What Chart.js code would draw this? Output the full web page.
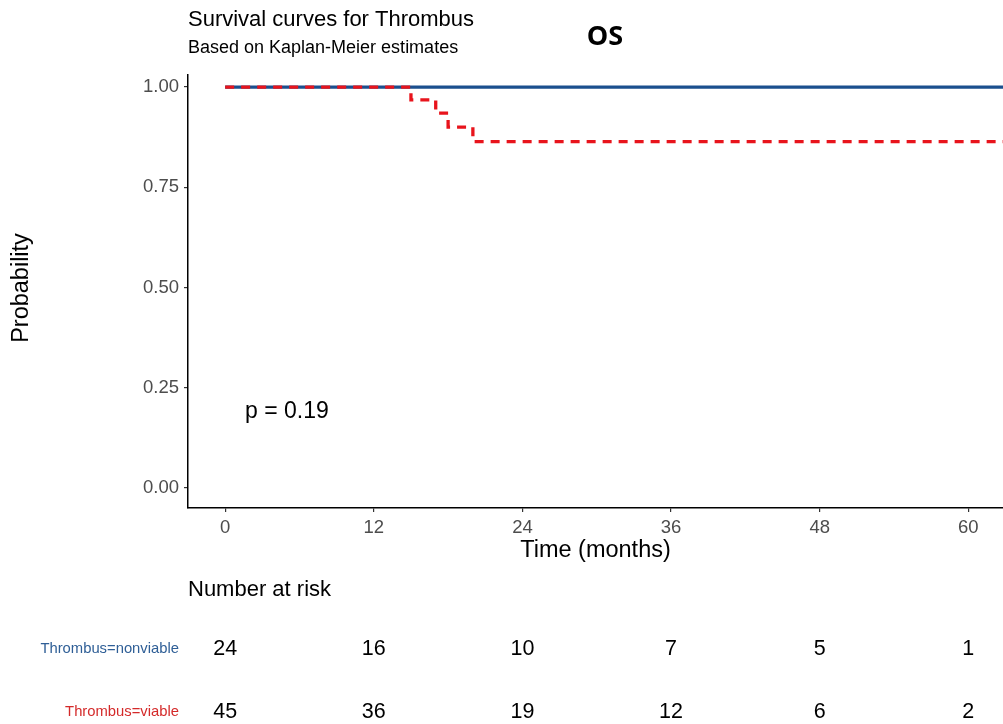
<!DOCTYPE html>
<html>
<head>
<meta charset="utf-8">
<script src="https://cdn.jsdelivr.net/npm/chart.js@4/dist/chart.umd.min.js"></script>
<style>
  html, body { margin: 0; padding: 0; background: #fff; }
  #wrap { width: 1003px; height: 724px; }
</style>
</head>
<body>
<div id="wrap"><canvas id="kmChart" width="1003" height="724"></canvas></div>
<script>
// tick labels / risk table times
const xTicks = [0, 12, 24, 36, 48, 60];
const yTicks = [0, 0.25, 0.5, 0.75, 1];

// Kaplan-Meier steps
const nonviableTime = [0, 63];
const nonviableSurv = [1, 1];
const viableTime = [0, 15, 17, 18, 20, 63];
const viableSurv = [1, 0.968, 0.935, 0.9, 0.864, 0.864];

// number at risk
const riskNonviable = [24, 16, 10, 7, 5, 1];
const riskViable = [45, 36, 19, 12, 6, 2];

const blue = '#1b4f8e';
const red = '#e8141c';
const font = '"Liberation Sans", Arial, sans-serif';

function toPoints(xs, ys) {
  return xs.map((x, i) => ({ x: x, y: ys[i] }));
}

// titles, axis titles, p-value and risk table
const textPlugin = {
  id: 'kmText',
  afterDraw(chart) {
    const ctx = chart.ctx;
    const xs = chart.scales.x;
    const ys = chart.scales.y;
    const area = chart.chartArea;
    ctx.save();
    ctx.textBaseline = 'middle';
    ctx.fillStyle = '#000';

    ctx.textAlign = 'left';
    ctx.font = '22px ' + font;
    ctx.fillText('Survival curves for Thrombus', area.left, 20);
    ctx.font = '18px ' + font;
    ctx.fillText('Based on Kaplan-Meier estimates', area.left, 48);

    ctx.textAlign = 'center';
    ctx.font = 'bold 27px "Open Sans", ' + font;
    ctx.fillText('OS', 605, 37);

    // axis titles
    ctx.font = '23.5px ' + font;
    ctx.fillText('Time (months)', (area.left + area.right) / 2, 551);
    ctx.save();
    ctx.translate(22, 288);
    ctx.rotate(-Math.PI / 2);
    ctx.fillText('Probability', 0, 0);
    ctx.restore();

    // p value
    ctx.textAlign = 'left';
    ctx.font = '23px ' + font;
    ctx.fillText('p = 0.19', xs.getPixelForValue(1.6), ys.getPixelForValue(0.19));

    // risk table
    ctx.font = '22px ' + font;
    ctx.fillText('Number at risk', area.left, 590);
    ctx.textAlign = 'right';
    ctx.font = '14.8px ' + font;
    ctx.fillStyle = '#2e5e96';
    ctx.fillText('Thrombus=nonviable', 179, 649);
    ctx.fillStyle = '#d42a2a';
    ctx.fillText('Thrombus=viable', 179, 712);

    ctx.textAlign = 'center';
    ctx.fillStyle = '#000';
    ctx.font = '21.5px ' + font;
    xTicks.forEach((t, i) => {
      const px = xs.getPixelForValue(t);
      ctx.fillText(String(riskNonviable[i]), px, 649);
      ctx.fillText(String(riskViable[i]), px, 712);
    });
    ctx.restore();
  }
};

new Chart(document.getElementById('kmChart'), {
  type: 'line',
  data: {
    datasets: [
      {
        label: 'Thrombus=viable',
        data: toPoints(viableTime, viableSurv),
        borderColor: red,
        borderWidth: 3.3,
        borderDash: [9, 7],
        stepped: true,
        pointRadius: 0,
        fill: false,
        order: 0
      },
      {
        label: 'Thrombus=nonviable',
        data: toPoints(nonviableTime, nonviableSurv),
        borderColor: blue,
        borderWidth: 3.3,
        stepped: true,
        pointRadius: 0,
        fill: false,
        order: 1
      }
    ]
  },
  options: {
    responsive: false,
    animation: false,
    layout: { padding: { top: 75, right: 0, left: 0, bottom: 0 } },
    plugins: {
      legend: { display: false },
      tooltip: { enabled: false }
    },
    scales: {
      x: {
        type: 'linear',
        min: -3,
        max: 62.8,
        afterFit: s => { s.height = 216; },
        afterBuildTicks: s => { s.ticks = xTicks.map(v => ({ value: v })); },
        grid: { display: true, drawOnChartArea: false, tickLength: 4, color: '#333', lineWidth: 1.2 },
        border: { display: true, color: '#000', width: 1.5 },
        ticks: { color: '#4d4d4d', font: { family: font, size: 18.5 }, padding: 5, maxRotation: 0 }
      },
      y: {
        type: 'linear',
        min: -0.05,
        max: 1.03,
        afterFit: s => { s.width = 188; },
        afterBuildTicks: s => { s.ticks = yTicks.map(v => ({ value: v })); },
        grid: { display: true, drawOnChartArea: false, tickLength: 4, color: '#333', lineWidth: 1.2 },
        border: { display: true, color: '#000', width: 1.5 },
        ticks: {
          color: '#4d4d4d',
          font: { family: font, size: 18.5 },
          padding: 5,
          callback: v => Number(v).toFixed(2)
        }
      }
    }
  },
  plugins: [textPlugin]
});
</script>
</body>
</html>
